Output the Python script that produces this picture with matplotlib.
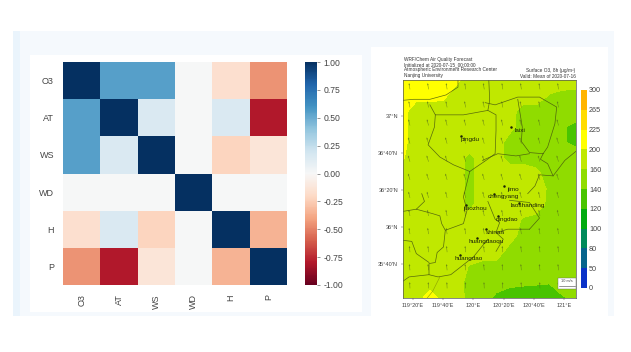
import numpy as np
import matplotlib
matplotlib.use('Agg')
import matplotlib.pyplot as plt
from matplotlib.colors import ListedColormap, BoundaryNorm
from matplotlib.patches import Rectangle

plt.rcParams['font.family'] = ['Liberation Sans', 'DejaVu Sans']
plt.rcParams['axes.unicode_minus'] = False

W, H = 631, 352

# correlation heatmap
variables = ['O3', 'AT', 'WS', 'WD', 'H', 'P']
corr = [
    [1.00, 0.55, 0.55, 0.00, -0.17, -0.45],
    [0.55, 1.00, 0.15, 0.00, 0.15, -0.80],
    [0.55, 0.15, 1.00, 0.00, -0.22, -0.13],
    [0.00, 0.00, 0.00, 1.00, 0.00, 0.00],
    [-0.17, 0.15, -0.22, 0.00, 1.00, -0.35],
    [-0.45, -0.80, -0.13, 0.00, -0.35, 1.00],
]
corr_ticks = [1.0, 0.75, 0.5, 0.25, 0.0, -0.25, -0.5, -0.75, -1.0]

# O3 map, values read by eye on a coarse grid (north to south)
o3_levels = [0, 50, 80, 100, 120, 140, 160, 200, 225, 265, 300]
o3_colors = ['#0a32c8', '#06648c', '#008a5a', '#00aa10', '#48c400', '#90dc00',
             '#c0e800', '#ffff00', '#ffdc00', '#ffb400']
o3 = [
    [215, 215, 215, 215, 212, 175, 175, 175, 175, 175, 175, 175, 175, 175],
    [215, 215, 215, 212, 175, 175, 175, 175, 175, 175, 175, 158, 152, 150],
    [215, 175, 175, 175, 175, 175, 175, 175, 170, 150, 150, 150, 150, 150],
    [215, 175, 175, 175, 175, 175, 175, 175, 168, 150, 150, 150, 142, 135],
    [212, 175, 175, 175, 175, 175, 175, 172, 150, 150, 150, 150, 142, 135],
    [203, 175, 175, 175, 175, 152, 175, 172, 150, 150, 150, 150, 150, 150],
    [175, 175, 175, 175, 175, 152, 175, 175, 175, 175, 165, 150, 150, 150],
    [175, 175, 175, 175, 175, 152, 175, 175, 175, 175, 175, 155, 150, 150],
    [175, 175, 175, 175, 175, 152, 175, 175, 175, 175, 175, 152, 150, 150],
    [175, 175, 175, 175, 175, 175, 175, 175, 175, 157, 150, 150, 150, 150],
    [175, 175, 175, 175, 175, 175, 175, 175, 172, 150, 150, 150, 150, 150],
    [175, 175, 175, 175, 175, 175, 175, 175, 150, 150, 150, 150, 150, 150],
    [175, 175, 175, 175, 175, 158, 150, 150, 150, 150, 150, 150, 150, 150],
    [175, 175, 175, 175, 172, 150, 150, 150, 145, 143, 142, 141, 150, 150],
    [175, 175, 224, 185, 175, 150, 150, 135, 130, 130, 130, 130, 138, 145],
]
o3_ticks = ['0', '50', '80', '100', '120', '140', '160', '200', '225', '265', '300']

# wind per row of arrows, north to south
wind_u = [-0.15, -0.2, -0.25, -0.3, -0.3, -0.3, -0.25, -0.2, -0.15, -0.1, -0.1, -0.05]
wind_v = [1.0, 1.0, 1.0, 1.0, 1.0, 1.0, 1.0, 1.0, 1.0, 1.0, 1.0, 1.0]

# borders, lon/lat
borders = [
    [(119.21, 37.14), (119.34, 37.15), (119.52, 37.15), (119.70, 37.19), (119.83, 37.26), (119.83, 37.33)],
    [(119.52, 37.10), (119.58, 37.01), (119.89, 37.01), (120.16, 37.05), (120.18, 37.14), (120.17, 37.33)],
    [(119.58, 37.01), (119.57, 36.90), (119.50, 36.74), (119.63, 36.63), (119.78, 36.56), (119.96, 36.50)],
    [(120.16, 37.05), (120.25, 37.01), (120.25, 36.87), (120.24, 36.66), (120.14, 36.60), (119.96, 36.50)],
    [(120.13, 37.12), (120.24, 37.10), (120.49, 37.17), (120.73, 37.17), (120.92, 37.08), (120.90, 36.93), (120.82, 36.72), (120.77, 36.66)],
    [(120.49, 37.15), (120.54, 36.90), (120.53, 36.77), (120.62, 36.67), (120.77, 36.66)],
    [(120.10, 36.60), (120.27, 36.66), (120.47, 36.64), (120.62, 36.66)],
    [(120.77, 36.66), (120.74, 36.61), (120.82, 36.57), (120.88, 36.46), (121.01, 36.60), (121.13, 36.68)],
    [(120.60, 36.30), (120.68, 36.37), (120.73, 36.47), (120.88, 36.46)],
    [(119.22, 36.14), (119.37, 36.16), (119.46, 36.23), (119.43, 36.30)],
    [(119.37, 36.16), (119.55, 36.12), (119.63, 36.10), (119.65, 36.03), (119.69, 35.97), (119.89, 36.03), (119.93, 36.15), (119.89, 36.27), (119.96, 36.50)],
    [(119.69, 35.97), (119.67, 35.82), (119.60, 35.77), (119.58, 35.68), (119.51, 35.67), (119.51, 35.57)],
    [(119.22, 35.88), (119.32, 35.87), (119.37, 35.76), (119.51, 35.68)],
    [(119.22, 35.51), (119.29, 35.55), (119.51, 35.57), (119.61, 35.55), (119.75, 35.57), (119.86, 35.64), (120.00, 35.73), (120.16, 35.89)],
    [(120.16, 36.23), (120.24, 36.07), (120.29, 36.04), (120.25, 35.95), (120.33, 35.89), (120.25, 35.78)],
    [(120.25, 35.95), (120.38, 35.98), (120.62, 35.98)],
    [(120.40, 36.24), (120.62, 36.22), (120.73, 36.08), (120.62, 35.98)],
]
border_light = [(119.63, 35.55), (119.55, 35.42), (119.49, 35.36)]

# cities: name, lon, lat
cities = [
    ('pingdu', 119.96, 36.79), ('laixi', 120.52, 36.87), ('jimo', 120.44, 36.34),
    ('chengyang', 120.33, 36.27), ('laoshanding', 120.60, 36.19), ('jiaozhou', 120.02, 36.17),
    ('qingdao', 120.37, 36.07), ('shinan', 120.24, 35.95), ('huangdaoqu', 120.14, 35.87),
    ('huangdao', 119.95, 35.72),
]


def px_axes(fig, left, top, right, bottom):
    return fig.add_axes([left / W, 1 - bottom / H, (right - left) / W, (bottom - top) / H])


def px_rect(fig, left, top, right, bottom, color):
    fig.patches.append(Rectangle((left / W, 1 - bottom / H), (right - left) / W, (bottom - top) / H,
                                 transform=fig.transFigure, facecolor=color, edgecolor='none', zorder=-5))


def heatmap(fig):
    ax = px_axes(fig, 63, 62, 287, 285)
    mesh = ax.pcolormesh(np.array(corr), cmap='RdBu', vmin=-1, vmax=1, edgecolors='none')
    ax.invert_yaxis()
    ax.set_xticks(np.arange(len(variables)) + 0.5, variables, rotation=90, fontsize=6.5, color='#444444')
    ax.set_yticks(np.arange(len(variables)) + 0.5, variables, fontsize=6.5, color='#444444')
    ax.tick_params(length=0, pad=6.5)
    for s in ax.spines.values():
        s.set_visible(False)

    cax = px_axes(fig, 305, 62, 317, 285)
    cb = fig.colorbar(mesh, cax=cax)
    cb.set_ticks(corr_ticks, labels=[f'{t:.2f}' for t in corr_ticks])
    cb.ax.tick_params(labelsize=6.2, length=2, width=0.4, pad=2.5, colors='#444444')
    cb.outline.set_visible(False)


def o3_map(fig):
    ax = px_axes(fig, 403, 80, 576, 298)
    lon0, lon1 = 119.223, 121.133
    lat0, lat1 = 35.36, 37.324
    lons = np.linspace(lon0, lon1, 14)
    lats = np.linspace(lat1, lat0, 15)
    cmap = ListedColormap(o3_colors)
    norm = BoundaryNorm(o3_levels, cmap.N)
    cf = ax.contourf(lons, lats, np.array(o3), levels=o3_levels, cmap=cmap, norm=norm)

    for line in borders:
        xs, ys = zip(*line)
        ax.plot(xs, ys, color='#44540f', lw=0.5, alpha=0.85)
    xs, ys = zip(*border_light)
    ax.plot(xs, ys, color='#8aa000', lw=0.4)

    qx = np.arange(119.30, 121.1, 0.205)
    qy = np.arange(37.24, 35.4, -0.163)[:len(wind_u)]
    X, Y = np.meshgrid(qx, qy)
    U = np.repeat(np.array(wind_u)[:, None], len(qx), axis=1)
    V = np.repeat(np.array(wind_v)[:, None], len(qx), axis=1)
    ax.quiver(X, Y, U, V, color='#55701a', scale=28, width=0.003, headwidth=3, headlength=3, alpha=0.75)

    for name, x, y in cities:
        ax.text(x, y, name, fontsize=4.6, color='#1c2408', ha='center', va='center')
        ax.plot(x - 0.1, y + 0.03, 'o', ms=0.8, color='#1c2408')

    # 10 m/s key
    ax.add_patch(Rectangle((120.93, 35.445), 0.203, 0.095, facecolor='white', edgecolor='#666666', lw=0.3, zorder=4))
    ax.text(121.03, 35.51, '10 m/s', fontsize=2.8, color='#444444', ha='center', va='center', zorder=5)
    ax.plot([120.95, 121.12], [35.47, 35.47], color='#444444', lw=0.4, zorder=5)

    ax.set_xlim(lon0, lon1)
    ax.set_ylim(lat0, lat1)
    ax.set_xticks([119 + 1 / 3, 119 + 2 / 3, 120, 120 + 1 / 3, 120 + 2 / 3, 121],
                  ["119°20'E", "119°40'E", "120°E", "120°20'E", "120°40'E", "121°E"])
    ax.set_yticks([35 + 2 / 3, 36, 36 + 1 / 3, 36 + 2 / 3, 37],
                  ["35°40'N", "36°N", "36°20'N", "36°40'N", "37°N"])
    ax.tick_params(labelsize=4, length=1.5, width=0.3, pad=2, colors='#444444')
    for s in ax.spines.values():
        s.set_linewidth(0.5)
        s.set_color('#555555')

    cax = px_axes(fig, 581, 90, 587, 288)
    cb = fig.colorbar(cf, cax=cax, spacing='uniform')
    cb.set_ticks(o3_levels, labels=o3_ticks)
    cb.ax.tick_params(labelsize=5.2, length=0, pad=1.5, colors='#444444')
    cb.outline.set_visible(False)

    head = ['WRF/Chem Air Quality Forecast', 'Initialized at 2020-07-15_00:00:00',
            'Atmospheric Environment Research Center', 'Nanjing University']
    for i, t in enumerate(head):
        fig.text(403.5 / W, 1 - (59.3 + i * 5.3) / H, t, fontsize=3.45, color='#333333', va='center')
    fig.text(575 / W, 1 - 70.7 / H, 'Surface O3, 8h (μg/m³)', fontsize=3.4, color='#333333', va='center', ha='right')
    fig.text(576 / W, 1 - 76 / H, 'Valid: Mean of 2020-07-16', fontsize=3.4, color='#333333', va='center', ha='right')


def main():
    fig = plt.figure(figsize=(W / 100, H / 100), dpi=100, facecolor='white')
    px_rect(fig, 13, 31, 614, 316, '#f5f9fd')
    px_rect(fig, 13, 31, 20, 316, '#eaf4fc')
    px_rect(fig, 30, 55, 362, 312, 'white')
    px_rect(fig, 371, 47, 608, 316, 'white')
    heatmap(fig)
    o3_map(fig)
    fig.savefig('out.png', dpi=100)


if __name__ == '__main__':
    main()
